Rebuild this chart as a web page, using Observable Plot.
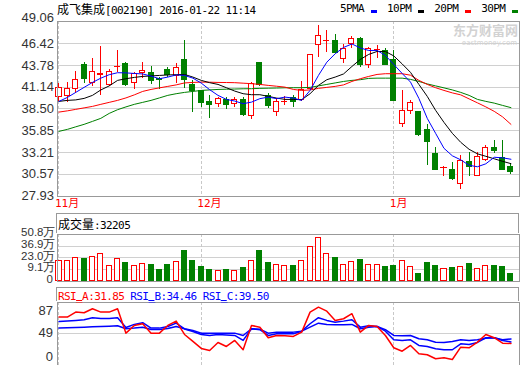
<!DOCTYPE html>
<html><head><meta charset="utf-8">
<script src="https://cdn.jsdelivr.net/npm/d3@7"></script>
<script src="https://cdn.jsdelivr.net/npm/@observablehq/plot@0.6"></script>
<style>
body{margin:0;background:#fff;}
#wrap{position:relative;width:520px;height:365px;overflow:hidden;background:#fff;}
.asc{font-family:"DejaVu Sans Mono",monospace;font-size:11px;letter-spacing:-0.6px;}
.cjk{font-family:"Noto Sans CJK SC",sans-serif;font-size:12px;letter-spacing:0;}
.us{text-decoration:underline;text-decoration-thickness:1px;text-underline-offset:0px;}
.hdr{position:absolute;box-sizing:border-box;border:1px solid #999;border-bottom:none;background:transparent;white-space:nowrap;overflow:visible;}
svg{position:absolute;left:0;}
</style></head><body><div id="wrap"></div>
<script>
// ---------- data ----------
const idx = d3.range(55); // trading-day index, 2015-11 .. 2016-01-22
const monthIdx = [0, 17, 40];
const monthLabels = ["11月", "12月", "1月"];
const opens  = [39.95,40.06,40.96,43.87,41.64,42.65,41.44,43.55,43.99,41.69,42.90,42.85,42.12,43.18,42.45,44.39,41.36,40.63,39.33,39.14,39.62,39.06,39.62,37.64,44.06,40.03,38.12,39.33,39.80,39.54,40.96,46.21,46.70,46.70,44.60,46.33,47.02,43.79,45.60,45.55,44.39,36.71,38.25,38.12,35.90,33.08,31.30,31.13,29.35,32.06,30.33,32.26,33.80,32.59,31.45];
const highs  = [41.64,41.76,43.10,44.11,44.60,46.09,43.26,45.60,44.11,42.90,44.11,43.66,42.37,43.58,43.99,46.82,41.97,40.75,40.15,39.94,39.94,39.94,39.94,41.76,44.15,40.35,39.74,40.00,40.15,41.84,45.05,48.63,48.03,47.54,46.30,47.34,47.22,46.00,46.21,45.85,45.60,40.75,39.54,38.20,36.60,33.80,31.52,31.96,32.87,33.27,33.27,34.10,34.69,34.69,31.86];
const lows   = [39.45,39.33,40.35,41.64,41.27,40.15,41.27,42.97,41.27,40.84,42.24,41.48,40.84,42.37,41.56,40.96,38.12,38.73,37.39,38.73,38.45,38.65,37.60,37.24,41.28,38.53,37.60,38.90,38.73,39.45,40.75,44.79,45.40,45.30,43.99,45.81,43.58,43.38,44.60,43.75,39.40,36.30,37.80,35.20,31.66,31.00,30.24,29.85,28.75,30.24,30.24,32.10,33.07,31.05,30.57];
const closes = [41.08,40.96,42.05,42.17,42.97,42.77,42.97,43.63,41.44,42.69,43.09,41.88,42.00,42.66,43.51,41.97,40.63,39.21,39.02,39.66,38.93,39.54,37.72,41.56,41.36,38.81,39.33,39.40,39.33,40.84,45.00,47.30,46.75,45.32,45.80,47.02,43.79,45.81,45.70,43.85,39.45,38.21,39.22,35.38,34.48,31.05,31.35,30.03,32.14,31.45,32.66,33.80,33.39,31.13,30.84];
const volumes = [19.8,19.8,23.0,21.4,24.2,27.8,12.7,22.2,17.4,13.5,15.9,13.9,9.1,13.9,18.6,31.7,19.0,11.5,8.3,7.9,8.3,7.9,10.3,19.8,30.9,17.4,13.9,13.5,12.7,19.8,36.5,46.9,27.8,23.4,14.7,18.6,20.2,14.7,14.7,11.5,12.7,19.8,12.3,4.3,16.3,12.7,9.9,10.3,11.5,15.1,9.9,13.5,12.7,11.5,3.22];
const ma5  = [39.42,39.90,40.51,41.12,41.72,42.24,42.66,42.90,42.88,42.81,42.75,42.49,42.17,42.37,42.63,42.57,42.24,41.64,40.84,40.15,39.66,39.46,39.14,39.33,39.75,39.94,39.75,39.94,39.82,39.54,40.75,42.57,44.18,45.20,45.97,46.39,45.91,45.60,45.60,45.00,43.91,42.81,41.76,39.78,37.36,35.54,33.72,32.81,32.32,31.66,31.48,31.84,32.63,32.57,32.39];
const ma10 = [39.42,39.54,39.60,39.78,40.15,40.81,41.30,41.97,42.17,42.33,42.45,42.51,42.57,42.63,42.66,42.69,42.37,41.97,41.69,41.48,41.08,40.67,40.35,40.23,40.23,40.03,39.82,39.66,39.66,39.62,40.35,41.36,42.05,42.37,42.75,43.66,44.51,45.12,45.48,45.48,44.94,43.97,42.94,41.48,40.03,38.33,36.87,35.54,34.45,33.60,33.05,32.75,32.45,32.14,31.86];
const ma20 = [38.12,38.27,38.45,38.63,38.81,39.06,39.30,39.54,39.84,40.21,40.63,40.87,41.06,41.24,41.42,41.66,41.72,41.76,41.75,41.72,41.71,41.69,41.63,41.57,41.48,41.36,41.26,41.15,40.87,40.75,40.81,41.00,41.12,41.24,41.42,41.84,42.17,42.45,42.69,42.78,42.78,42.78,42.60,41.97,41.48,41.08,40.75,40.45,40.21,39.72,39.24,38.75,38.21,37.54,36.63];
const ma30 = [35.78,36.02,36.33,36.63,36.99,37.36,37.96,38.41,38.75,39.06,39.30,39.54,39.84,40.15,40.35,40.51,40.63,40.75,40.81,40.87,40.90,40.92,40.95,40.96,41.00,41.02,41.04,41.07,41.08,41.08,41.12,41.30,41.48,41.66,41.84,41.97,42.05,42.21,42.24,42.24,42.24,42.24,42.09,41.84,41.54,41.30,41.06,40.81,40.51,40.15,39.66,39.42,39.21,38.93,38.66];
const rsiA = [75.9,75.9,84.3,83.2,89.9,84.3,84.3,89.9,49.1,62.0,64.8,49.1,49.1,62.0,69.2,46.9,35.2,23.5,20.1,33.5,26.8,36.9,21.3,62.0,59.1,41.4,45.2,44.7,43.6,50.8,84.3,92.6,85.9,70.4,73.2,81.6,50.8,62.0,60.3,45.2,24.6,18.9,28.5,14.6,12.9,6.2,7.9,5.0,25.6,24.6,34.0,46.9,41.4,32.3,31.85];
const rsiB = [68.7,69.5,70.4,71.5,74.9,73.7,73.7,74.9,58.6,63.7,66.5,57.5,57.5,60.3,65.8,56.1,51.9,46.9,45.2,46.9,46.1,45.2,36.9,56.4,54.8,45.2,48.1,48.1,48.1,52.4,64.8,74.9,70.4,67.5,69.2,71.5,59.1,61.5,60.3,52.4,38.0,36.9,38.0,28.5,26.8,22.9,21.3,21.3,31.3,30.2,33.5,41.4,41.4,36.9,34.46];
const rsiC = [57.5,58.1,58.6,59.1,59.8,60.3,60.8,61.5,56.4,57.5,59.1,55.3,55.3,57.0,60.3,56.4,53.6,49.1,49.1,49.1,49.1,49.1,45.2,56.4,55.8,49.1,50.8,50.8,50.8,52.4,59.1,65.8,63.7,63.1,63.1,63.7,56.4,59.1,60.3,54.8,45.2,44.7,45.2,39.7,38.0,34.0,33.5,35.2,38.0,36.9,38.0,40.7,41.4,38.0,39.50];
const priceTicks = [49.06,46.42,43.78,41.14,38.50,35.85,33.21,30.57,27.93];
const volTicks = [50.8,36.9,23.0,9.1];
const rsiTicks = [87,49];
const legendNames = ["5PMA","10PM","20PM","30PM"];
const legendColors = ["#0000ff","#000000","#ff0000","#008000"];
const titleCJK = "成飞集成", titleRest = "[002190] 2016-01-22 11:14";
const volHeader = ["成交量", ":32205"];
const rsiHeader = [["RSI_A:31.85","#ff0000"],["RSI_B:34.46","#0000ff"],["RSI_C:39.50","#0000ff"]];

// ---------- shared ----------
const UP = "#ff0000", DN = "#008000", GRID = "#d0d0d0", BORDER = "#999999", DASH = "#c8c8c8";
const rows = idx.map(i => ({i, o: opens[i], h: highs[i], l: lows[i], c: closes[i], v: volumes[i],
  up: closes[i] >= opens[i], ma5: ma5[i], ma10: ma10[i], ma20: ma20[i], ma30: ma30[i],
  rsiA: rsiA[i], rsiB: rsiB[i], rsiC: rsiC[i]}));
const xScale = () => ({type: "band", domain: idx, range: [53.14, 515.8], padding: 0.28, round: false, axis: null});
const baseStyle = {background: "transparent", fontFamily: "'Liberation Sans', Arial, sans-serif", fontSize: "13px", color: "#333", overflow: "visible"};
const dashRules = () => Plot.ruleX(monthIdx, {x: d => d, stroke: DASH, strokeDasharray: "3,2", shapeRendering: "crispEdges"});
const wrap = document.getElementById("wrap");
function put(el, top) { el.style.top = top + "px"; wrap.appendChild(el); }

// ---------- price panel ----------
const price = Plot.plot({
  width: 520, height: 212, marginTop: 20.5, marginBottom: 16.5, marginLeft: 56.5, marginRight: 1.5,
  x: xScale(), y: {domain: [27.93, 49.18], axis: null}, style: baseStyle,
  marks: [
    Plot.gridY(priceTicks.slice(1, -1), {stroke: GRID, strokeOpacity: 1, shapeRendering: "crispEdges"}),
    dashRules(),
    Plot.text(["东方财富网"], {frameAnchor: "top-right", dx: -1, dy: 5, textAnchor: "end", fill: "#d2d2d2", fontSize: 13, fontWeight: "bold", fontFamily: "'Noto Sans CJK SC'"}),
    Plot.text(["eastmoney.com"], {frameAnchor: "top-right", dx: -2, dy: 19, textAnchor: "end", fill: "#d2d2d2", fontSize: 7, fontFamily: "'DejaVu Sans'"}),
    Plot.ruleX(rows, {x: "i", y1: "l", y2: "h", stroke: d => d.up ? UP : DN, shapeRendering: "crispEdges"}),
    Plot.barY(rows, {x: "i", y1: "o", y2: "c", fill: d => d.up ? "#fff" : DN, stroke: d => d.up ? UP : DN, insetLeft: 0.5, insetRight: 0.5, shapeRendering: "crispEdges"}),
    Plot.line(rows, {x: "i", y: "ma30", stroke: "#008000", strokeWidth: 1}),
    Plot.line(rows, {x: "i", y: "ma20", stroke: "#ff0000", strokeWidth: 1}),
    Plot.line(rows, {x: "i", y: "ma10", stroke: "#000000", strokeWidth: 1}),
    Plot.line(rows, {x: "i", y: "ma5", stroke: "#0000ff", strokeWidth: 1}),
    Plot.frame({stroke: BORDER, shapeRendering: "crispEdges"}),
    Plot.axisY(priceTicks.slice(1), {tickSize: 0, tickPadding: 3, label: null, tickFormat: d => d.toFixed(2)}),
    Plot.axisY(priceTicks.slice(0, 1), {tickSize: 0, tickPadding: 3, label: null, tickFormat: d => d.toFixed(2), dy: -4}),
    Plot.text(monthIdx, {x: d => d, text: (d, i) => monthLabels[i], frameAnchor: "bottom", dy: 11, dx: -4, textAnchor: "start", fill: "#ff0000", fontSize: 11, fontFamily: "'DejaVu Sans Mono','Noto Sans CJK SC'", ariaLabel: "months"})
  ]
});
put(price, 0);
d3.select(price).selectAll('g[aria-label="months"] text').style("letter-spacing", "-0.6px");

// ---------- volume panel ----------
const volDomain = [-4.6, 51.4];
const vol = Plot.plot({
  width: 520, height: 72, marginTop: 21.5, marginBottom: 3.5, marginLeft: 56.5, marginRight: 1.5,
  x: xScale(), y: {domain: volDomain, axis: null}, style: baseStyle,
  marks: [
    Plot.gridY(volTicks.slice(1), {stroke: GRID, strokeOpacity: 1, shapeRendering: "crispEdges"}),
    dashRules(),
    Plot.barY(rows, {x: "i", y1: volDomain[0], y2: "v", fill: d => d.up ? "#fff" : DN, stroke: d => d.up ? UP : DN, insetLeft: 0.5, insetRight: 0.5, shapeRendering: "crispEdges"}),
    Plot.frame({stroke: BORDER, shapeRendering: "crispEdges"}),
    Plot.axisY(volTicks, {tickSize: 0, tickPadding: 1.5, dy: -2, label: null, fontSize: 11.5, tickFormat: d => d.toFixed(1) + "万"}),
    Plot.text(["0"], {frameAnchor: "bottom-left", dx: -4, dy: 2, textAnchor: "end", fill: "#333", fontSize: 11.5})
  ]
});
put(vol, 212);

// ---------- RSI panel ----------
const rsi = Plot.plot({
  width: 520, height: 79, marginTop: 15.5, marginBottom: 0.5, marginLeft: 56.5, marginRight: 1.5,
  x: xScale(), y: {domain: [-4.2, 101.2], axis: null}, style: baseStyle,
  marks: [
    Plot.gridY([49], {stroke: GRID, strokeOpacity: 1, shapeRendering: "crispEdges"}),
    dashRules(),
    Plot.line(rows, {x: "i", y: "rsiC", stroke: "#0000ff"}),
    Plot.line(rows, {x: "i", y: "rsiB", stroke: "#0000ff"}),
    Plot.line(rows, {x: "i", y: "rsiA", stroke: "#ff0000"}),
    Plot.frame({stroke: BORDER, shapeRendering: "crispEdges"}),
    Plot.axisY(rsiTicks, {tickSize: 0, tickPadding: 4, label: null}),
    Plot.axisY([0], {tickSize: 0, tickPadding: 4, label: null, dy: -6})
  ]
});
put(rsi, 286);

// ---------- HTML text: title, legend, panel headers ----------
const title = document.createElement("div");
title.style.cssText = "position:absolute;left:57px;top:2px;line-height:14px;color:#000;white-space:nowrap;";
title.innerHTML = `<span class="cjk">${titleCJK}</span><span class="asc">${titleRest}</span>`;
wrap.appendChild(title);

const legend = document.createElement("div");
legend.style.cssText = "position:absolute;left:340px;top:2px;line-height:14px;display:flex;align-items:center;white-space:nowrap;";
legend.innerHTML = legendNames.map((n, k) =>
  `<span class="asc" style="color:#000">${n}</span><span style="display:inline-block;width:6px;height:3px;background:${legendColors[k]};margin:4px 10px 0 7px"></span>`).join("");
wrap.appendChild(legend);

const vh = document.createElement("div");
vh.className = "hdr";
vh.style.cssText += "left:56px;top:213px;width:463px;height:20px;line-height:20px;padding-left:1px;";
vh.innerHTML = `<span class="cjk">${volHeader[0]}</span><span class="asc">${volHeader[1]}</span>`;
wrap.appendChild(vh);

const rh = document.createElement("div");
rh.className = "hdr";
rh.style.cssText += "left:56px;top:287px;width:463px;height:14px;line-height:13px;padding-left:1px;";
rh.innerHTML = rsiHeader.map(([t, c]) =>
  `<span class="asc" style="color:${c}">${t.replace("_", '<span class="us">_</span>')}</span>`).join('<span class="asc"> </span>');
wrap.appendChild(rh);
</script>
</body></html>
